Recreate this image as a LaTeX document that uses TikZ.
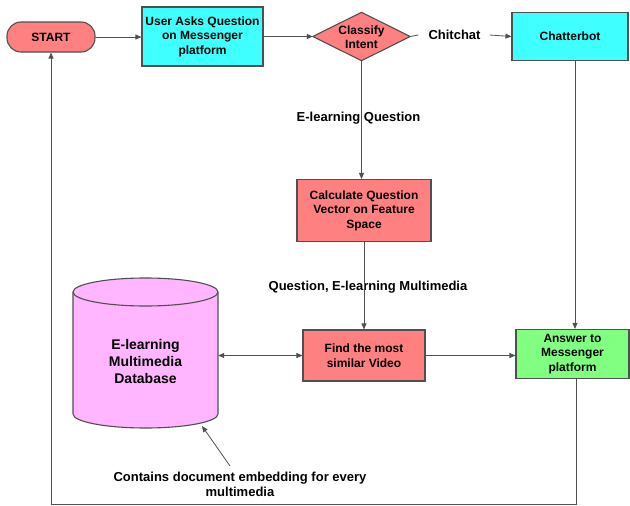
\documentclass[tikz,border=0pt]{standalone}
\usepackage{fontspec}
\setmainfont{Liberation Sans}
\usetikzlibrary{arrows.meta}
\definecolor{salmon}{HTML}{FF8080}
\definecolor{cyanx}{HTML}{40FFFF}
\definecolor{greenx}{HTML}{80FF80}
\definecolor{pinkx}{HTML}{FFB6FF}
\definecolor{edgec}{HTML}{505050}
\begin{document}
\begin{tikzpicture}[x=1pt,y=-1pt,
  box/.style={draw=edgec, line width=1.1pt, align=center, inner sep=0pt,
    font=\bfseries\fontsize{12}{14.5}\selectfont},
  lbl/.style={font=\bfseries\fontsize{13}{15}\selectfont, align=center, inner sep=0pt},
  conn/.style={draw=edgec, line width=0.8pt},
  arr/.style={conn, -{Triangle[length=6pt,width=5pt]}},
  darr/.style={conn, {Triangle[length=6pt,width=5pt]}-{Triangle[length=6pt,width=5pt]}}
]
\useasboundingbox (0,0) rectangle (630,506);

% nodes
\node[box, fill=salmon, rounded corners=14pt, minimum width=88, minimum height=30] (start) at (51,37) {START};
\node[box, fill=cyanx, minimum width=121, minimum height=59] (user) at (202.5,36.5) {User Asks Question\\on Messenger\\platform};
\node[minimum width=97, minimum height=48, inner sep=0pt] (ci) at (361.5,36.5) {};
\filldraw[fill=salmon, draw=edgec, line width=1.1pt] (ci.west) -- (ci.north) -- (ci.east) -- (ci.south) -- cycle;
\node[align=center, inner sep=0pt, font=\bfseries\fontsize{12}{14.5}\selectfont] (citext) at (361.5,37) {Classify\\Intent};
\node[lbl] (chit) at (454.5,35) {Chitchat};
\node[box, fill=cyanx, minimum width=116, minimum height=48] (chat) at (570,36.5) {Chatterbot};
\node[lbl] (eq) at (358.5,118) {E-learning Question};
\node[box, fill=salmon, minimum width=134, minimum height=62] (calc) at (364,210.5) {Calculate Question\\Vector on Feature\\Space};
\node[lbl] (qm) at (368,287) {Question, E-learning Multimedia};
\node[box, fill=salmon, minimum width=122, minimum height=51] (find) at (364,355.5) {Find the most\\similar Video};
\node[box, fill=greenx, minimum width=113, minimum height=49] (answer) at (572.5,354) {Answer to\\Messenger\\platform};

% cylinder
\filldraw[fill=pinkx, draw=edgec, line width=1.1pt]
  (73,292) -- (73,414) arc[start angle=180, end angle=0, x radius=72.5, y radius=14]
  -- (218,292) arc[start angle=0, end angle=-180, x radius=72.5, y radius=14] -- cycle;
\draw[draw=edgec, line width=1.1pt] (73,292) arc[start angle=180, end angle=0, x radius=72.5, y radius=14];
\node[align=center, inner sep=0pt, minimum width=145, font=\bfseries\fontsize{14}{17}\selectfont] (db) at (145.5,361) {E-learning\\Multimedia\\Database};
\coordinate (dbbottom) at (202,426);

\node[lbl] (note) at (240,484) {Contains document embedding for every\\multimedia};
\coordinate (notetip) at (230,466);

% connectors
\draw[arr] (start) -- (user.west |- start);
\draw[arr] (user.east |- ci.west) -- (ci.west);
\draw[conn] (ci.east) -- ([xshift=-10pt]chit.west);
\draw[arr] ([xshift=9pt]chit.east) -- (chat.west);
\draw[conn] (ci.south) -- ([yshift=-9pt]ci.south |- eq.north);
\draw[arr] ([yshift=7pt]ci.south |- eq.south) -- (ci.south |- calc.north);
\draw[conn] (calc.south) -- ([yshift=-4pt]calc.south |- qm.north);
\draw[arr] ([yshift=8pt]calc.south |- qm.south) -- (calc.south |- find.north);
\draw[darr] (find.west -| db.east) -- (find.west);
\draw[arr] (find.east) -- (find.east -| answer.west);
\draw[arr] (chat.south -| 575,0) -- (answer.north -| 575,0);
\draw[arr] (notetip) -- (dbbottom);
\draw[arr] (answer.south -| 576,0) -- (576,504) -| (start.south);
\end{tikzpicture}
\end{document}
